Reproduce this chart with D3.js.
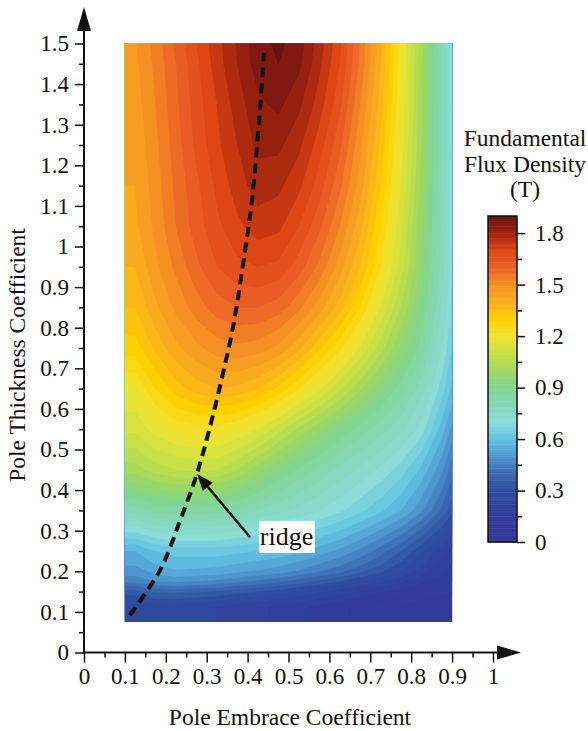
<!DOCTYPE html>
<html>
<head>
<meta charset="utf-8">
<script src="https://cdn.jsdelivr.net/npm/d3@7"></script>
<style>
  body { margin: 0; background: #fff; }
  svg { display: block; font-family: "Liberation Serif", "Times New Roman", serif; }
  .tick line { stroke: #111; stroke-width: 1.5; }
</style>
</head>
<body>
<div class="chart"></div>
<script>
var svgWidth = 588;
var svgHeight = 731;

// grid: columns = pole embrace, rows = pole thickness
var embrace = [0.10, 0.15, 0.20, 0.25, 0.30, 0.35, 0.40, 0.45, 0.50,
  0.55, 0.60, 0.65, 0.70, 0.75, 0.80, 0.85, 0.90];
var thickness = [0.075, 0.15, 0.2, 0.3, 0.4, 0.5, 0.6, 0.7, 0.8,
  0.9, 1.0, 1.1, 1.2, 1.3, 1.4, 1.5];

// fundamental flux density (T), one row per thickness value
var flux = [
  [0.24, 0.26, 0.26, 0.25, 0.24, 0.22, 0.21, 0.19, 0.17, 0.15, 0.13, 0.11, 0.09, 0.08, 0.06, 0.05, 0.04],
  [0.45, 0.48, 0.49, 0.48, 0.47, 0.45, 0.43, 0.41, 0.38, 0.35, 0.32, 0.28, 0.25, 0.21, 0.17, 0.14, 0.11],
  [0.56, 0.60, 0.62, 0.62, 0.62, 0.61, 0.60, 0.59, 0.57, 0.54, 0.51, 0.47, 0.42, 0.36, 0.29, 0.22, 0.16],
  [0.82, 0.85, 0.86, 0.86, 0.85, 0.83, 0.80, 0.77, 0.75, 0.72, 0.69, 0.65, 0.61, 0.56, 0.49, 0.39, 0.28],
  [1.02, 1.06, 1.08, 1.09, 1.08, 1.04, 0.98, 0.92, 0.87, 0.83, 0.79, 0.75, 0.71, 0.66, 0.59, 0.49, 0.35],
  [1.13, 1.18, 1.21, 1.22, 1.22, 1.20, 1.16, 1.10, 1.03, 0.97, 0.91, 0.86, 0.82, 0.77, 0.70, 0.58, 0.43],
  [1.20, 1.28, 1.34, 1.38, 1.40, 1.39, 1.36, 1.31, 1.24, 1.17, 1.09, 1.01, 0.93, 0.86, 0.78, 0.66, 0.52],
  [1.30, 1.37, 1.43, 1.47, 1.50, 1.51, 1.50, 1.47, 1.41, 1.33, 1.25, 1.16, 1.06, 0.96, 0.86, 0.72, 0.56],
  [1.36, 1.43, 1.49, 1.54, 1.58, 1.60, 1.60, 1.58, 1.53, 1.46, 1.38, 1.28, 1.16, 1.04, 0.91, 0.76, 0.58],
  [1.40, 1.47, 1.53, 1.59, 1.64, 1.67, 1.68, 1.67, 1.62, 1.55, 1.46, 1.36, 1.24, 1.10, 0.95, 0.78, 0.59],
  [1.43, 1.49, 1.56, 1.62, 1.67, 1.71, 1.74, 1.73, 1.68, 1.61, 1.52, 1.41, 1.28, 1.13, 0.97, 0.79, 0.60],
  [1.44, 1.50, 1.57, 1.63, 1.69, 1.74, 1.78, 1.77, 1.73, 1.66, 1.57, 1.46, 1.32, 1.16, 0.99, 0.79, 0.60],
  [1.45, 1.51, 1.58, 1.65, 1.71, 1.76, 1.81, 1.81, 1.77, 1.70, 1.61, 1.49, 1.35, 1.18, 1.00, 0.80, 0.60],
  [1.46, 1.52, 1.59, 1.66, 1.72, 1.78, 1.83, 1.85, 1.81, 1.74, 1.65, 1.52, 1.38, 1.20, 1.01, 0.80, 0.60],
  [1.47, 1.53, 1.60, 1.67, 1.74, 1.80, 1.86, 1.88, 1.85, 1.77, 1.68, 1.55, 1.40, 1.21, 1.01, 0.80, 0.60],
  [1.48, 1.54, 1.62, 1.69, 1.75, 1.81, 1.87, 1.90, 1.87, 1.79, 1.70, 1.56, 1.42, 1.22, 1.02, 0.80, 0.60]
];

// ridge (dashed line)
var ridgeEmbrace   = [0.112, 0.186, 0.235, 0.276, 0.308, 0.338, 0.364, 0.394, 0.410, 0.429, 0.440];
var ridgeThickness = [0.092, 0.203, 0.325, 0.440, 0.556, 0.680, 0.800, 0.991, 1.107, 1.320, 1.477];

// annotation arrow: from label to ridge
var arrowFrom = [0.406, 0.284];
var arrowTo = [0.276, 0.440];
var labelAt = [0.43, 0.265];

// colour map of the colour bar
var stopValues = [0, 0.15, 0.3, 0.4, 0.5, 0.6, 0.7, 0.8, 0.9, 1.0, 1.1, 1.2, 1.3, 1.4, 1.5, 1.6, 1.7, 1.8, 1.9];
var stopColors = ["#36389a", "#323c9b", "#2d4ea0", "#3c69b2", "#4e96cd", "#62c3e4", "#8cdcd7", "#84d8b9",
  "#82d691", "#a0d75f", "#c8e146", "#f0e432", "#ffd000", "#fab01e", "#f59123", "#ec6228", "#de4614",
  "#a0230f", "#691212"];

var xTicks = d3.range(0, 11).map(d => d / 10);
var xMinor = d3.range(0, 10).map(d => d / 10 + 0.05);
var yTicks = d3.range(0, 16).map(d => d / 10);
var yMinor = d3.range(0, 15).map(d => d / 10 + 0.05);
var cbarTicks = [0, 0.3, 0.6, 0.9, 1.2, 1.5, 1.8];
var cbarMinor = [0.15, 0.45, 0.75, 1.05, 1.35, 1.65];
var cbarMax = 1.9;
var levelStep = 0.04;

var serif = "'Liberation Serif', 'Times New Roman', serif";
var fmt = d => String(+d.toFixed(2));

var svg = d3.select(".chart")
  .append("svg")
  .attr("width", svgWidth)
  .attr("height", svgHeight);

var x = d3.scaleLinear().domain([0, 1]).range([84, 493]);
var y = d3.scaleLinear().domain([0, 1.5]).range([652.5, 43.5]);
var color = d3.scaleLinear().domain(stopValues).range(stopColors).interpolate(d3.interpolateRgb).clamp(true);

// filled contours; the grid is padded by one copied cell on each side so the
// d3 boundary steps fall outside the clipped area
var n = embrace.length, m = thickness.length;
var padded = [];
for (var j = -1; j <= m; j++) {
  var row = flux[Math.max(0, Math.min(m - 1, j))];
  for (var i = -1; i <= n; i++) padded.push(row[Math.max(0, Math.min(n - 1, i))]);
}
var levels = d3.range(0, cbarMax + 0.001, levelStep);
var contours = d3.contours().size([n + 2, m + 2]).thresholds(levels)(padded);

var colIndex = d3.scaleLinear().domain(d3.range(1, n + 1)).range(embrace.map(x));
var rowIndex = d3.scaleLinear().domain(d3.range(1, m + 1)).range(thickness.map(y));
var path = d3.geoPath(d3.geoTransform({
  point: function(px, py) { this.stream.point(colIndex(px), rowIndex(py)); }
}));

svg.append("clipPath").attr("id", "mapclip")
  .append("rect")
  .attr("x", x(embrace[0]))
  .attr("y", y(thickness[m - 1]))
  .attr("width", x(embrace[n - 1]) - x(embrace[0]))
  .attr("height", y(thickness[0]) - y(thickness[m - 1]));

svg.append("g")
  .attr("clip-path", "url(#mapclip)")
  .selectAll("path")
  .data(contours)
  .enter()
  .append("path")
  .attr("d", path)
  .attr("fill", d => color(d.value + levelStep / 2))
  .attr("stroke", d => color(d.value + levelStep / 2))
  .attr("stroke-width", 0.3);

// ridge line
var ridge = ridgeEmbrace.map((e, i) => [e, ridgeThickness[i]]);
svg.append("path")
  .datum(ridge)
  .attr("d", d3.line().x(d => x(d[0])).y(d => y(d[1])).curve(d3.curveCatmullRom))
  .attr("fill", "none")
  .attr("stroke", "#111")
  .attr("stroke-width", 4)
  .attr("stroke-dasharray", "10,6");

// arrow annotation
var ax0 = x(arrowFrom[0]), ay0 = y(arrowFrom[1]);
var ax1 = x(arrowTo[0]), ay1 = y(arrowTo[1]);
var ang = Math.atan2(ay1 - ay0, ax1 - ax0);
var headLen = 17, headHalf = 6.5;
var bx = ax1 - headLen * Math.cos(ang), by = ay1 - headLen * Math.sin(ang);
svg.append("line")
  .attr("x1", ax0).attr("y1", ay0)
  .attr("x2", bx).attr("y2", by)
  .attr("stroke", "#111")
  .attr("stroke-width", 2.5);
svg.append("path")
  .attr("d", "M" + ax1 + "," + ay1 +
    "L" + (bx + headHalf * Math.sin(ang)) + "," + (by - headHalf * Math.cos(ang)) +
    "L" + (bx - headHalf * Math.sin(ang)) + "," + (by + headHalf * Math.cos(ang)) + "Z")
  .attr("fill", "#111");

var lx = x(labelAt[0]), ly = y(labelAt[1]);
svg.append("rect")
  .attr("x", lx - 1).attr("y", ly - 24)
  .attr("width", 56).attr("height", 32)
  .attr("fill", "#fff");
svg.append("text")
  .attr("x", lx).attr("y", ly)
  .attr("font-size", 26)
  .attr("fill", "#111")
  .text("ridge");

// axes
function styleAxis(g) {
  g.attr("font-family", null).attr("font-size", null);
  g.selectAll(".tick text")
    .style("font-family", serif)
    .style("font-size", "23px")
    .attr("fill", "#111");
  g.select(".domain").remove();
}

svg.append("g")
  .attr("transform", `translate(${x(0)},0)`)
  .call(d3.axisLeft(y).tickValues(yTicks).tickSize(9).tickPadding(6).tickFormat(fmt))
  .call(styleAxis);
svg.append("g")
  .attr("transform", `translate(${x(0)},0)`)
  .call(d3.axisLeft(y).tickValues(yMinor).tickSize(5).tickFormat(""))
  .call(styleAxis);

svg.append("g")
  .attr("transform", `translate(0,${y(0)})`)
  .call(d3.axisBottom(x).tickValues(xTicks).tickSize(10).tickPadding(5).tickFormat(fmt))
  .call(styleAxis);
svg.append("g")
  .attr("transform", `translate(0,${y(0)})`)
  .call(d3.axisBottom(x).tickValues(xMinor).tickSize(5).tickFormat(""))
  .call(styleAxis);

// axis lines with arrow heads
svg.append("line")
  .attr("x1", x(0)).attr("y1", y(0))
  .attr("x2", x(0)).attr("y2", 28)
  .attr("stroke", "#111").attr("stroke-width", 2);
svg.append("path")
  .attr("d", `M${x(0)},7L${x(0) - 7},31L${x(0) + 7},31Z`)
  .attr("fill", "#111");
svg.append("line")
  .attr("x1", x(0) - 1).attr("y1", y(0))
  .attr("x2", 500).attr("y2", y(0))
  .attr("stroke", "#111").attr("stroke-width", 2);
svg.append("path")
  .attr("d", `M521,${y(0)}L497,${y(0) - 7}L497,${y(0) + 7}Z`)
  .attr("fill", "#111");

// axis titles
svg.append("text")
  .attr("x", 290).attr("y", 725)
  .attr("text-anchor", "middle")
  .attr("font-size", 23.5)
  .attr("fill", "#111")
  .text("Pole Embrace Coefficient");
svg.append("text")
  .attr("transform", "translate(25,355) rotate(-90)")
  .attr("text-anchor", "middle")
  .attr("font-size", 23.5)
  .attr("fill", "#111")
  .text("Pole Thickness Coefficient");

// colour bar
var cb = d3.scaleLinear().domain([0, cbarMax]).range([542, 216]);
var cbX = 488, cbW = 29;
var cbarG = svg.append("g");
cbarG.selectAll("rect")
  .data(d3.range(0, cbarMax, 0.01))
  .enter()
  .append("rect")
  .attr("x", cbX)
  .attr("y", d => cb(d + 0.01))
  .attr("width", cbW)
  .attr("height", d => cb(d) - cb(d + 0.01) + 0.5)
  .attr("fill", d => color(d + 0.005));
cbarG.append("rect")
  .attr("x", cbX).attr("y", cb(cbarMax))
  .attr("width", cbW).attr("height", cb(0) - cb(cbarMax))
  .attr("fill", "none")
  .attr("stroke", "#111")
  .attr("stroke-width", 1.5);

svg.append("g")
  .attr("transform", `translate(${cbX + cbW},0)`)
  .call(d3.axisRight(cb).tickValues(cbarTicks).tickSize(8).tickPadding(10).tickFormat(fmt))
  .call(styleAxis);
svg.append("g")
  .attr("transform", `translate(${cbX + cbW},0)`)
  .call(d3.axisRight(cb).tickValues(cbarMinor).tickSize(5).tickFormat(""))
  .call(styleAxis);

var title = svg.append("text")
  .attr("text-anchor", "middle")
  .attr("font-size", 23.5)
  .attr("fill", "#111");
["Fundamental", "Flux Density", "(T)"].forEach(function(t, i) {
  title.append("tspan")
    .attr("x", 525)
    .attr("y", 146 + i * 25.5)
    .text(t);
});
</script>
</body>
</html>
